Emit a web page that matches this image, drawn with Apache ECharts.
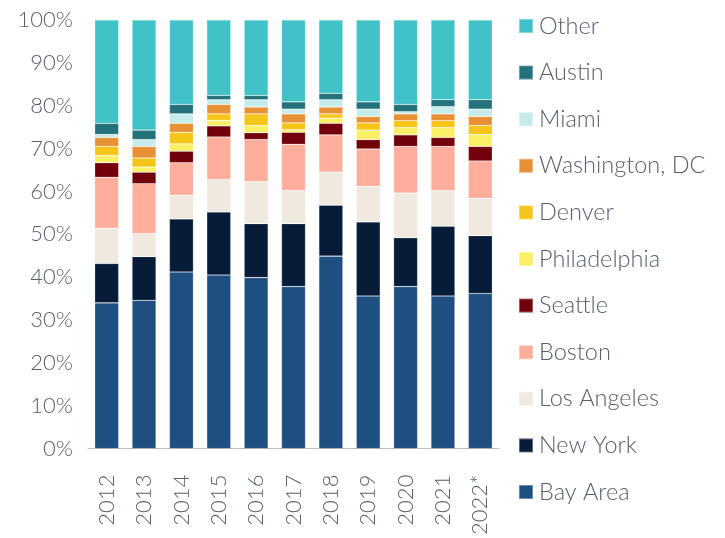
<!DOCTYPE html>
<html>
<head>
<meta charset="utf-8">
<script src="https://cdn.jsdelivr.net/npm/echarts@6/dist/echarts.min.js"></script>
<style>
  html, body { margin: 0; padding: 0; background: #fff; }
  #main { width: 725px; height: 538px; }
</style>
</head>
<body>
<div id="main"></div>
<script>
// years on the x axis
var years = ['2012', '2013', '2014', '2015', '2016', '2017', '2018', '2019', '2020', '2021', '2022*'];

// share of each metro, in %
var bayArea      = [34.0, 34.6, 41.2, 40.5, 39.9, 37.8, 44.9, 35.6, 37.8, 35.6, 36.2];
var newYork      = [9.2, 10.2, 12.4, 14.7, 12.6, 14.7, 11.9, 17.3, 11.4, 16.3, 13.5];
var losAngeles   = [8.2, 5.4, 5.5, 7.6, 9.8, 7.7, 7.7, 8.3, 10.4, 8.3, 8.7];
var boston       = [11.9, 11.6, 7.6, 9.9, 9.8, 10.8, 8.7, 8.7, 10.9, 10.3, 8.7];
var seattle      = [3.4, 2.7, 2.7, 2.6, 1.6, 2.8, 2.7, 2.2, 2.7, 2.1, 3.4];
var philadelphia = [1.7, 1.2, 1.7, 1.3, 1.7, 0.6, 1.2, 2.2, 1.7, 2.3, 2.8];
var denver       = [2.1, 2.1, 2.7, 1.5, 2.7, 1.6, 1.0, 1.7, 1.6, 1.6, 2.1];
var washington   = [2.1, 2.7, 2.1, 2.2, 1.6, 2.1, 1.6, 1.5, 1.6, 1.6, 2.1];
var miami        = [0.7, 1.6, 2.2, 1.1, 1.7, 1.1, 1.7, 1.7, 0.5, 1.7, 1.7];
var austin       = [2.6, 2.2, 2.2, 1.0, 1.0, 1.7, 1.5, 1.7, 1.7, 1.6, 2.2];
var other        = [24.1, 25.7, 19.7, 17.6, 17.6, 19.1, 17.1, 19.1, 19.7, 18.6, 18.6];

var yTicks = [0, 10, 20, 30, 40, 50, 60, 70, 80, 90, 100];

var seriesList = [
  { name: 'Bay Area', data: bayArea, color: '#1f4e80' },
  { name: 'New York', data: newYork, color: '#061c39' },
  { name: 'Los Angeles', data: losAngeles, color: '#efe9df' },
  { name: 'Boston', data: boston, color: '#ffae9b' },
  { name: 'Seattle', data: seattle, color: '#72000a' },
  { name: 'Philadelphia', data: philadelphia, color: '#faf066' },
  { name: 'Denver', data: denver, color: '#f5c518' },
  { name: 'Washington, DC', data: washington, color: '#e89035' },
  { name: 'Miami', data: miami, color: '#c5ecea' },
  { name: 'Austin', data: austin, color: '#23717a' },
  { name: 'Other', data: other, color: '#40c2c8' }
];

var textColor = '#56606c';
var fontFamily = 'Lato, "Open Sans", sans-serif';

var chart = echarts.init(document.getElementById('main'), null, { renderer: 'canvas' });

var option = {
  backgroundColor: '#ffffff',
  animation: false,
  legend: {
    orient: 'vertical',
    left: 518,
    top: 14,
    padding: 0,
    itemWidth: 14,
    itemHeight: 14,
    itemGap: 22.6,
    icon: 'rect',
    data: seriesList.map(function (s) { return s.name; }).reverse(),
    textStyle: {
      color: textColor,
      fontSize: 23.5,
      fontWeight: 300,
      fontFamily: fontFamily,
      padding: [0, 0, 0, 1]
    }
  },
  grid: {
    left: 88,
    right: 226,
    top: 20,
    bottom: 88,
    containLabel: false
  },
  xAxis: {
    type: 'category',
    data: years,
    axisLine: { show: true, lineStyle: { color: '#c0c0c0', width: 1 } },
    axisTick: { show: false },
    axisLabel: {
      rotate: 90,
      margin: 26,
      color: textColor,
      fontSize: 22,
      fontWeight: 300,
      fontFamily: fontFamily
    }
  },
  yAxis: {
    type: 'value',
    min: 0,
    max: 100,
    interval: 10,
    splitLine: { show: false },
    axisLine: { show: false },
    axisTick: { show: false },
    axisLabel: {
      margin: 15,
      color: textColor,
      fontSize: 22,
      fontWeight: 300,
      fontFamily: fontFamily,
      formatter: function (v) {
        return yTicks.indexOf(v) >= 0 ? v + '%' : '';
      }
    }
  },
  series: seriesList.map(function (s) {
    return {
      name: s.name,
      type: 'bar',
      stack: 'total',
      barWidth: 24,
      data: s.data,
      itemStyle: {
        color: s.color,
        borderColor: 'rgba(255,255,255,0.35)',
        borderWidth: 0.6
      }
    };
  })
};

chart.setOption(option);
</script>
</body>
</html>
